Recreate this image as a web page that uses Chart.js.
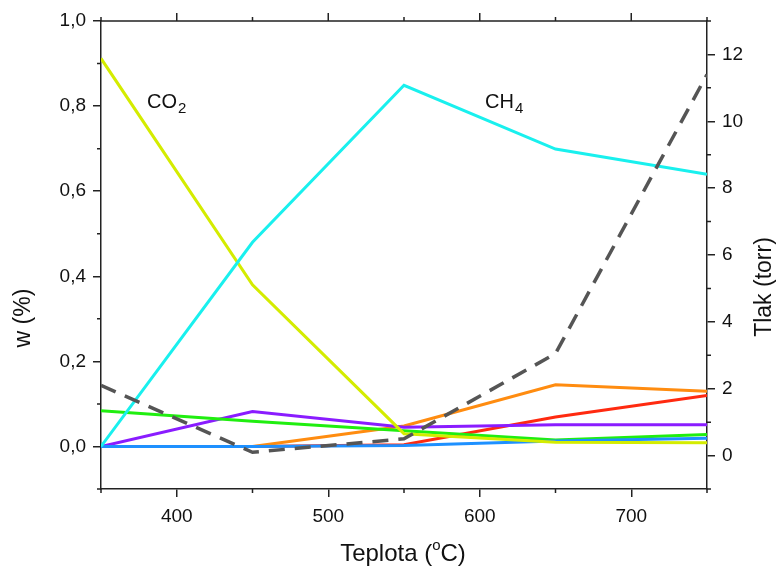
<!DOCTYPE html>
<html>
<head>
<meta charset="utf-8">
<script src="https://cdn.jsdelivr.net/npm/chart.js@4.4.0/dist/chart.umd.min.js"></script>
<style>
  html, body { margin: 0; padding: 0; background: #fff; }
  #wrap { width: 780px; height: 570px; }
</style>
</head>
<body>
<div id="wrap"><canvas id="myChart" width="780" height="570"></canvas></div>
<script>
// temperatures (°C)
const teplota = [350, 450, 550, 650, 750]

// mass fractions, left axis
const co2 = [0.912, 0.38, 0.03, 0.01, 0.009]
const ch4 = [0.0, 0.48, 0.849, 0.699, 0.64]
const green = [0.084, 0.059, 0.037, 0.015, 0.028]
const purple = [0.0, 0.082, 0.045, 0.051, 0.051]
const orange = [0.0, 0.0, 0.048, 0.145, 0.13]
const blue = [0.0, 0.0, 0.002, 0.013, 0.019]
const red = [0.0, 0.0, 0.004, 0.069, 0.12]

// pressure (torr), right axis
const tlak = [2.1, 0.1, 0.5, 3.05, 11.4]

const xTicks = [400, 500, 600, 700]
const yTicks = [0, 0.2, 0.4, 0.6, 0.8, 1.0]
const y2Ticks = [0, 2, 4, 6, 8, 10, 12]

const FONT = '"Liberation Sans", Arial, sans-serif'

const pts = (arr) => arr.map((v, i) => ({ x: teplota[i], y: v }))

const line = (label, data, color, axis, extra) => ({
  label, data: pts(data), borderColor: color, backgroundColor: color,
  borderWidth: 3, pointRadius: 0, tension: 0, yAxisID: axis, ...extra
})

// minor ticks, top border, axis titles and species labels
const decor = {
  id: 'decor',
  afterDraw(chart) {
    const ctx = chart.ctx
    const { left, right, top, bottom } = chart.chartArea
    const sx = chart.scales.x, sy = chart.scales.y, sy2 = chart.scales.y2
    ctx.save()
    ctx.strokeStyle = '#222'
    ctx.lineWidth = 1.5
    ctx.beginPath()
    ctx.moveTo(left, top); ctx.lineTo(right, top)
    for (let v = 350; v <= 750; v += 50) {
      const px = sx.getPixelForValue(v)
      const major = v % 100 === 0
      const len = major ? 8 : 4
      if (!major) { ctx.moveTo(px, bottom); ctx.lineTo(px, bottom + len) }
      ctx.moveTo(px, top); ctx.lineTo(px, top - len)
    }
    for (let v = -0.1; v <= 1.01; v += 0.2) {
      const py = sy.getPixelForValue(v)
      ctx.moveTo(left, py); ctx.lineTo(left - 4, py)
    }
    for (let v = -1; v <= 13; v += 2) {
      const py = sy2.getPixelForValue(v)
      ctx.moveTo(right, py); ctx.lineTo(right + 4, py)
    }
    ctx.stroke()

    ctx.fillStyle = '#111'
    ctx.textBaseline = 'alphabetic'
    const chem = (base, sub, x, y) => {
      ctx.font = '20px ' + FONT
      ctx.fillText(base, x, y)
      const w = ctx.measureText(base).width
      ctx.font = '15px ' + FONT
      ctx.fillText(sub, x + w + 1, y + 5)
    }
    chem('CO', '2', 147, 108)
    chem('CH', '4', 485, 108)

    // x title with superscript o
    ctx.font = '24px ' + FONT
    const a = 'Teplota (', c = 'C)'
    ctx.font = '24px ' + FONT
    const wa = ctx.measureText(a).width, wc = ctx.measureText(c).width
    ctx.font = '15px ' + FONT
    const wo = ctx.measureText('o').width
    let x0 = 403 - (wa + wo + wc) / 2
    ctx.font = '24px ' + FONT
    ctx.fillText(a, x0, 561)
    ctx.font = '15px ' + FONT
    ctx.fillText('o', x0 + wa, 550)
    ctx.font = '24px ' + FONT
    ctx.fillText(c, x0 + wa + wo, 561)

    // y titles
    ctx.textAlign = 'center'
    ctx.textBaseline = 'middle'
    ctx.font = '23px ' + FONT
    ctx.translate(24, 318); ctx.rotate(-Math.PI / 2)
    ctx.fillText('w (%)', 0, 0)
    ctx.setTransform(1, 0, 0, 1, 0, 0)
    ctx.translate(765, 287); ctx.rotate(-Math.PI / 2)
    ctx.fillText('Tlak (torr)', 0, 0)
    ctx.restore()
  }
}

const ctx = document.getElementById('myChart').getContext('2d')
const myChart = new Chart(ctx, {
  type: 'line',
  data: {
    datasets: [
      line('pressure', tlak, '#555555', 'y2', { borderDash: [16, 10], borderWidth: 3.5 }),
      line('CH4', ch4, '#19f0ee', 'y'),
      line('CO2', co2, '#d4ec00', 'y'),
      line('blue', blue, '#1e90ff', 'y'),
      line('green', green, '#20ee10', 'y'),
      line('purple', purple, '#8a1cff', 'y'),
      line('orange', orange, '#ff8c10', 'y'),
      line('red', red, '#ff2a10', 'y')
    ]
  },
  options: {
    responsive: false,
    animation: false,
    layout: { padding: { top: 21, left: 0, right: 0, bottom: 0 } },
    plugins: { legend: { display: false }, tooltip: { enabled: false } },
    scales: {
      x: {
        type: 'linear', min: 350, max: 750,
        afterBuildTicks: (s) => { s.ticks = xTicks.map(v => ({ value: v })) },
        afterFit: (s) => { s.height = 81 },
        border: { display: true, color: '#222', width: 1.5 },
        grid: { drawOnChartArea: false, drawTicks: true, tickLength: 8, color: '#222', lineWidth: 1.5 },
        ticks: { color: '#111', font: { family: FONT, size: 19 }, padding: 8, maxRotation: 0 }
      },
      y: {
        position: 'left', min: -0.1, max: 1.0,
        afterBuildTicks: (s) => { s.ticks = yTicks.map(v => ({ value: v })) },
        afterFit: (s) => { s.width = 101 },
        border: { display: true, color: '#222', width: 1.5 },
        grid: { drawOnChartArea: false, drawTicks: true, tickLength: 8, color: '#222', lineWidth: 1.5 },
        ticks: { color: '#111', font: { family: FONT, size: 19 }, padding: 7, callback: (v) => v.toFixed(1).replace('.', ',') }
      },
      y2: {
        position: 'right', min: -1, max: 13,
        afterBuildTicks: (s) => { s.ticks = y2Ticks.map(v => ({ value: v })) },
        afterFit: (s) => { s.width = 73 },
        border: { display: true, color: '#222', width: 1.5 },
        grid: { drawOnChartArea: false, drawTicks: true, tickLength: 8, color: '#222', lineWidth: 1.5 },
        ticks: { color: '#111', font: { family: FONT, size: 19 }, padding: 7 }
      }
    }
  },
  plugins: [decor]
})
</script>
</body>
</html>
